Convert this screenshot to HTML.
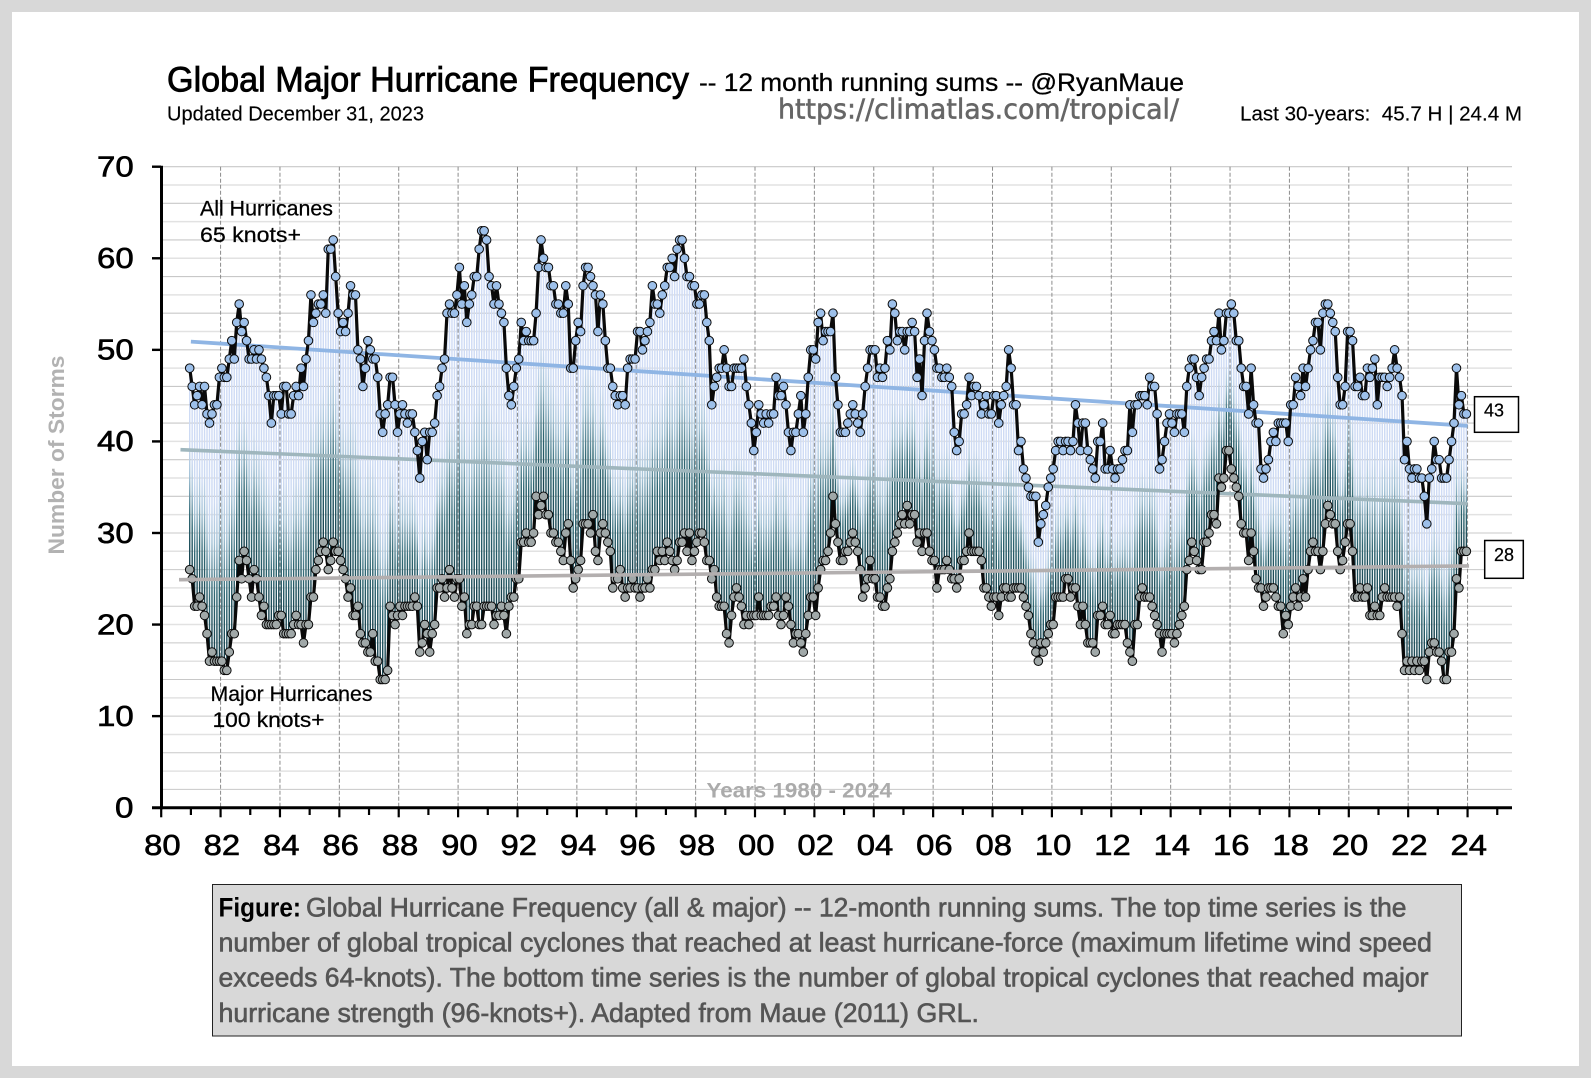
<!DOCTYPE html>
<html lang="en">
<head>
<meta charset="utf-8">
<title>Global Major Hurricane Frequency</title>
<style>
html,body{margin:0;padding:0;background:#d8d8d8;}
svg{display:block;font-family:"Liberation Sans",sans-serif;}
</style>
</head>
<body>
<svg id="chart" xmlns="http://www.w3.org/2000/svg" width="1591" height="1078" viewBox="0 0 1591 1078">
  <defs>
    <linearGradient id="dropGradient" x1="0" y1="1" x2="0" y2="0">
      <stop offset="0" stop-color="#153f4b"/>
      <stop offset="0.26" stop-color="#2f6773"/>
      <stop offset="0.46" stop-color="#a3c2d6"/>
      <stop offset="0.62" stop-color="#ccdaf3"/>
      <stop offset="1" stop-color="#d0dcf6"/>
    </linearGradient>
  </defs>
  <rect x="0" y="0" width="1591" height="1078" fill="#d8d8d8"/>
  <rect x="12" y="12" width="1567" height="1054" fill="#ffffff"/>

  <text x="167" y="91.5" font-size="35" fill="#000" stroke="#000" stroke-width="0.8" textLength="522" lengthAdjust="spacingAndGlyphs">Global Major Hurricane Frequency</text>
  <text x="699" y="91" font-size="25" fill="#000" stroke="#000" stroke-width="0.3" textLength="485" lengthAdjust="spacingAndGlyphs">-- 12 month running sums -- @RyanMaue</text>
  <text x="167" y="120.5" font-size="20.5" fill="#000" stroke="#000" stroke-width="0.15" textLength="257" lengthAdjust="spacingAndGlyphs">Updated December 31, 2023</text>
  <text x="778" y="118.5" font-size="28" font-family="DejaVu Sans, sans-serif" fill="#666" stroke="#666" stroke-width="0.55" textLength="401" lengthAdjust="spacingAndGlyphs">https://climatlas.com/tropical/</text>
  <text x="1240" y="120.5" font-size="20" fill="#000" stroke="#000" stroke-width="0.15" textLength="282" lengthAdjust="spacingAndGlyphs" xml:space="preserve">Last 30-years:  45.7 H | 24.4 M</text>

  <g id="gridH"></g>
  <g id="drops"></g>
  <g id="gridV"></g>
  <g id="trendsBack"></g>
  <g id="majorSeries"></g>
  <g id="trendsFront"></g>
  <g id="allSeries"></g>
  <g id="axes"></g>

  <text transform="translate(64,455) rotate(-90)" text-anchor="middle" font-size="22" font-weight="bold" fill="#b2b2b2" textLength="199" lengthAdjust="spacingAndGlyphs">Number of Storms</text>
  <text x="706.5" y="797.5" font-size="21" font-weight="bold" fill="#ababab" textLength="185.5" lengthAdjust="spacingAndGlyphs">Years 1980 - 2024</text>

  <text x="200" y="215.5" font-size="21" fill="#000" stroke="#000" stroke-width="0.25" textLength="133" lengthAdjust="spacingAndGlyphs">All Hurricanes</text>
  <text x="200" y="242" font-size="21" fill="#000" stroke="#000" stroke-width="0.25" textLength="101" lengthAdjust="spacingAndGlyphs">65 knots+</text>
  <text x="210.5" y="701" font-size="21" fill="#000" stroke="#000" stroke-width="0.25" textLength="162" lengthAdjust="spacingAndGlyphs">Major Hurricanes</text>
  <text x="212.5" y="727" font-size="21" fill="#000" stroke="#000" stroke-width="0.25" textLength="112" lengthAdjust="spacingAndGlyphs">100 knots+</text>

  <g>
    <rect x="1474.5" y="396.7" width="44" height="35.6" fill="#fff" stroke="#000" stroke-width="1.5"/>
    <text x="1484" y="416.5" font-size="18" fill="#000" stroke="#000" stroke-width="0.2" textLength="20" lengthAdjust="spacingAndGlyphs">43</text>
  </g>
  <g>
    <rect x="1484.7" y="540.5" width="38.6" height="37.8" fill="#fff" stroke="#000" stroke-width="1.5"/>
    <text x="1494" y="561" font-size="18" fill="#000" stroke="#000" stroke-width="0.2" textLength="20" lengthAdjust="spacingAndGlyphs">28</text>
  </g>

  <g font-size="26.5" fill="#555" stroke="#555" stroke-width="0.6">
    <rect x="212.5" y="884.5" width="1249" height="151.5" fill="#d8d8d8" stroke="#222" stroke-width="1"/>
    <text x="218.5" y="916.5" font-weight="bold" fill="#000" stroke="none" textLength="82.5" lengthAdjust="spacingAndGlyphs">Figure:</text>
    <text x="306" y="916.5" textLength="1100.5" lengthAdjust="spacingAndGlyphs">Global Hurricane Frequency (all &amp; major) -- 12-month running sums. The top time series is the</text>
    <text x="218.5" y="951.5" textLength="1213.5" lengthAdjust="spacingAndGlyphs">number of global tropical cyclones that reached at least hurricane-force (maximum lifetime wind speed</text>
    <text x="218.5" y="986.5" textLength="1210" lengthAdjust="spacingAndGlyphs">exceeds 64-knots). The bottom time series is the number of global tropical cyclones that reached major</text>
    <text x="218.5" y="1022" textLength="760.5" lengthAdjust="spacingAndGlyphs">hurricane strength (96-knots+). Adapted from Maue (2011) GRL.</text>
  </g>
</svg>

<script>
const allHurricanes = [
48,46,44,45,46,44,46,43,42,43,44,44,
47,48,47,47,49,51,49,53,55,52,53,51,
49,49,50,49,50,49,48,47,45,42,45,45,
45,43,46,46,43,43,45,46,45,48,46,49,
51,56,53,54,55,55,56,54,61,61,62,58,
54,52,53,52,54,57,56,56,50,49,46,48,
51,50,49,49,47,43,41,43,44,47,47,44,
41,43,44,43,42,43,43,41,39,36,40,41,
38,41,41,42,45,46,48,49,54,55,54,54,
56,59,55,57,53,55,56,58,58,61,63,63,
62,58,57,55,57,55,54,53,48,45,44,46,
48,49,53,51,52,51,51,51,54,59,62,60,
59,59,57,57,55,55,54,54,57,55,48,48,
51,53,52,57,59,59,58,57,56,52,56,55,
51,48,48,46,45,44,45,45,44,48,49,49,
49,52,52,50,51,52,53,57,55,55,54,56,
57,59,59,60,58,61,62,62,60,58,58,57,
57,55,55,56,56,53,51,44,46,47,48,48,
50,48,46,46,48,48,48,48,49,46,44,42,
39,41,44,43,42,43,42,43,43,47,45,45,
46,44,41,39,41,41,43,45,41,43,47,50,
50,49,53,54,51,52,52,52,54,47,44,41,
41,41,42,43,44,43,42,41,43,46,48,50,
50,50,47,48,47,48,51,50,55,54,51,52,
52,50,52,52,53,52,47,49,45,51,54,52,
51,50,48,48,47,47,48,47,46,41,39,40,
43,43,44,47,45,46,46,45,43,44,45,43,
43,45,45,42,44,45,46,50,48,44,44,39,
40,37,36,35,34,34,34,29,31,32,33,35,
36,37,39,40,40,39,40,40,39,40,44,42,
39,42,42,39,38,37,36,40,40,42,37,37,
39,37,36,37,37,38,39,39,44,41,44,44,
45,45,45,44,47,46,46,43,37,38,40,42,
43,42,41,43,43,43,41,46,48,49,49,47,
45,47,48,49,49,51,52,51,54,50,51,54,
54,55,54,51,51,48,46,46,43,48,44,42,
42,37,36,37,38,40,41,40,42,42,42,42,
40,44,44,47,46,45,48,46,48,50,51,53,
53,50,54,55,55,54,53,52,47,44,44,46,
52,52,51,46,46,47,45,45,48,47,48,49,
44,47,47,47,46,47,48,50,48,47,45,38,
40,37,36,37,37,36,36,34,31,36,37,40,
38,38,36,36,36,38,40,42,48,44,45,43,43];

const majorHurricanes = [
26,25,22,22,23,22,21,19,16,17,16,16,
16,16,15,15,17,19,19,23,27,25,28,27,
25,23,26,25,23,21,22,20,20,20,20,20,
21,21,19,19,19,19,20,21,20,20,18,20,
20,23,23,26,27,28,29,28,26,27,29,28,
28,27,26,25,23,24,21,21,22,19,18,18,
17,17,19,16,16,14,14,14,15,22,21,20,
21,22,21,22,22,22,22,23,22,17,18,20,
19,17,19,20,24,24,25,23,24,26,24,23,
25,25,22,23,19,20,20,22,22,20,20,22,
22,22,22,20,21,21,22,21,19,22,23,23,
25,25,29,29,30,29,29,30,34,32,33,34,
32,32,30,30,29,29,28,27,30,31,27,24,
25,26,27,31,31,31,30,32,28,27,30,31,
30,29,28,24,25,25,26,24,23,24,24,25,
24,24,23,24,24,25,24,26,26,28,27,28,
27,29,28,27,26,27,29,29,30,28,30,27,
28,29,30,30,29,27,27,25,26,23,22,22,
22,19,18,21,23,24,23,22,20,21,20,21,
21,21,23,21,21,21,21,22,22,23,21,20,
21,23,22,20,18,19,19,18,17,19,21,23,
23,21,24,26,27,27,28,30,34,31,29,27,
27,28,28,29,30,29,28,26,23,24,25,27,
25,25,23,23,22,22,24,25,28,29,30,31,
32,31,33,31,32,32,29,30,28,30,30,28,
27,27,24,26,26,26,27,26,25,25,24,25,
27,27,28,30,28,28,28,28,27,24,24,23,
22,23,23,21,23,24,24,23,23,24,24,24,
24,23,22,21,19,18,17,16,18,17,18,19,
20,20,23,23,23,23,25,25,23,24,24,22,
20,22,20,18,18,18,17,21,21,22,20,20,
21,19,19,20,20,20,20,18,17,16,20,20,
23,24,23,23,23,22,21,20,19,17,19,19,
19,19,18,19,20,21,22,26,27,29,28,27,
26,26,29,29,30,32,32,31,36,35,36,39,
39,37,36,35,34,31,30,30,27,30,28,25,
24,24,22,23,24,24,24,23,22,22,19,21,
20,22,23,24,22,23,25,23,26,28,29,28,
28,26,28,31,33,32,31,31,28,26,27,29,
31,31,28,23,23,24,23,23,24,21,21,22,
21,21,23,24,23,23,23,23,22,23,19,15,
16,15,16,15,16,15,16,16,14,17,18,18,
17,17,16,14,14,17,17,19,25,24,28,28,28];

const firstSeriesYear = 80.96;
const trendAllYears = [81, 124];
const trendAllValues = [50.9, 41.7];
const trendMidYears = [80.65, 124];
const trendMidValues = [39.1, 33.2];
const trendMajorYears = [80.6, 124.05];
const trendMajorValues = [24.9, 26.4];
const yTickValues = [0,10,20,30,40,50,60,70];
const xTickLabels = ["80","82","84","86","88","90","92","94","96","98","00","02","04","06","08","10","12","14","16","18","20","22","24"];
const xTickYears = [80,82,84,86,88,90,92,94,96,98,100,102,104,106,108,110,112,114,116,118,120,122,124];

const NS = "http://www.w3.org/2000/svg";
const xOf = function(year){ return 161.2 + (year - 80) * 29.69; };
const yOf = function(v){ return 807.7 - v * 9.157; };
const monthX = function(i){ return xOf(firstSeriesYear + i / 12); };
function make(tag, parent){ const el = document.createElementNS(NS, tag); parent.appendChild(el); return el; }

const gridH = document.getElementById("gridH");
for (let v = 2; v <= 70; v += 2) {
  const l = make("line", gridH);
  
  
  l.setAttribute("x1", 161); l.setAttribute("x2", 1512);
  l.setAttribute("y1", yOf(v)); l.setAttribute("y2", yOf(v));
  l.setAttribute("stroke", v % 4 === 0 ? "#e2e2e2" : "#c8c8c8");
  l.setAttribute("stroke-width", v % 4 === 0 ? 1.5 : 1.1);
}

const drops = document.getElementById("drops");
allHurricanes.forEach(function(v, i){
  const top = yOf(v), bottom = yOf(majorHurricanes[i]);
  const r = make("rect", drops);
  
  
  r.setAttribute("x", monthX(i) - 0.7);
  r.setAttribute("y", top);
  r.setAttribute("width", 1.4);
  r.setAttribute("height", bottom - top);
  r.setAttribute("fill", "url(#dropGradient)");
});

const gridV = document.getElementById("gridV");
xTickYears.slice(1).forEach(function(y){
  const l = make("line", gridV);
  
  
  l.setAttribute("x1", xOf(y)); l.setAttribute("x2", xOf(y));
  l.setAttribute("y1", yOf(70)); l.setAttribute("y2", yOf(0));
  l.setAttribute("stroke", "#8c8c8c");
  l.setAttribute("stroke-width", 1);
  l.setAttribute("stroke-dasharray", "4 2");
});

function trend(parent, years, values, color, width, name){
  const l = make("line", parent);
  
  
  l.setAttribute("x1", xOf(years[0])); l.setAttribute("y1", yOf(values[0]));
  l.setAttribute("x2", xOf(years[1])); l.setAttribute("y2", yOf(values[1]));
  l.setAttribute("stroke", color);
  l.setAttribute("stroke-width", width);
}
const trendsBack = document.getElementById("trendsBack");
trend(trendsBack, trendAllYears, trendAllValues, "#8fb5e4", 3.8, "all-hurricanes-trend");
trend(trendsBack, trendMidYears, trendMidValues, "#9fb6bd", 3.6, "middle-trend");
trend(document.getElementById("trendsFront"), trendMajorYears, trendMajorValues, "#b3afaf", 3.6, "major-hurricanes-trend");

function series(parent, values, fill, lineName, pointName){
  const p = make("polyline", parent);
  
  
  p.setAttribute("points", values.map(function(v, i){ return monthX(i) + "," + yOf(v); }).join(" "));
  p.setAttribute("fill", "none");
  p.setAttribute("stroke", "#0a0a0a");
  p.setAttribute("stroke-width", 3.2);
  p.setAttribute("stroke-linejoin", "round");
  values.forEach(function(v, i){
    const c = make("circle", parent);
    
    
    c.setAttribute("cx", monthX(i));
    c.setAttribute("cy", yOf(v));
    c.setAttribute("r", 4.3);
    c.setAttribute("fill", fill);
    c.setAttribute("stroke", "#0a0a0a");
    c.setAttribute("stroke-width", 1);
  });
}
series(document.getElementById("majorSeries"), majorHurricanes, "#a0a8a8", "major-hurricanes-line", "major-hurricanes-point");
series(document.getElementById("allSeries"), allHurricanes, "#9dc0ea", "all-hurricanes-line", "all-hurricanes-point");

const axes = document.getElementById("axes");
const yAxis = make("line", axes);


yAxis.setAttribute("x1", xOf(80) + 0.3); yAxis.setAttribute("x2", xOf(80) + 0.3);
yAxis.setAttribute("y1", yOf(70) - 1); yAxis.setAttribute("y2", yOf(0) + 1.5);
yAxis.setAttribute("stroke", "#000"); yAxis.setAttribute("stroke-width", 3);
const xAxis = make("line", axes);


xAxis.setAttribute("x1", 152); xAxis.setAttribute("x2", 1512);
xAxis.setAttribute("y1", yOf(0)); xAxis.setAttribute("y2", yOf(0));
xAxis.setAttribute("stroke", "#000"); xAxis.setAttribute("stroke-width", 3);

yTickValues.forEach(function(v){
  const t = make("line", axes);
  
  
  t.setAttribute("x1", 152); t.setAttribute("x2", 161);
  t.setAttribute("y1", yOf(v)); t.setAttribute("y2", yOf(v));
  t.setAttribute("stroke", "#000"); t.setAttribute("stroke-width", 2.4);
  const s = make("text", axes);
  
  
  const label = String(v);
  s.setAttribute("x", label.length === 1 ? 115 : 97);
  s.setAttribute("y", yOf(v) + 9.8);
  s.setAttribute("font-size", 28.5);
  s.setAttribute("fill", "#000");
  s.setAttribute("stroke", "#000");
  s.setAttribute("stroke-width", 0.6);
  s.setAttribute("textLength", label.length === 1 ? 18.5 : 36.7);
  s.setAttribute("lengthAdjust", "spacingAndGlyphs");
  s.textContent = label;
});

xTickLabels.forEach(function(label, i){
  const y = xTickYears[i];
  const t = make("line", axes);
  
  
  t.setAttribute("x1", xOf(y)); t.setAttribute("x2", xOf(y));
  t.setAttribute("y1", yOf(0)); t.setAttribute("y2", yOf(0) + 9.6);
  t.setAttribute("stroke", "#000"); t.setAttribute("stroke-width", 2.2);
  const m = make("line", axes);
  
  
  m.setAttribute("x1", xOf(y + 1)); m.setAttribute("x2", xOf(y + 1));
  m.setAttribute("y1", yOf(0)); m.setAttribute("y2", yOf(0) + 7.3);
  m.setAttribute("stroke", "#000"); m.setAttribute("stroke-width", 2.2);
  const s = make("text", axes);
  
  
  s.setAttribute("x", xOf(y) - 17);
  s.setAttribute("y", 855);
  s.setAttribute("font-size", 28.5);
  s.setAttribute("fill", "#000");
  s.setAttribute("stroke", "#000");
  s.setAttribute("stroke-width", 0.6);
  s.setAttribute("textLength", 36.5);
  s.setAttribute("lengthAdjust", "spacingAndGlyphs");
  s.textContent = label;
});
</script>
</body>
</html>
